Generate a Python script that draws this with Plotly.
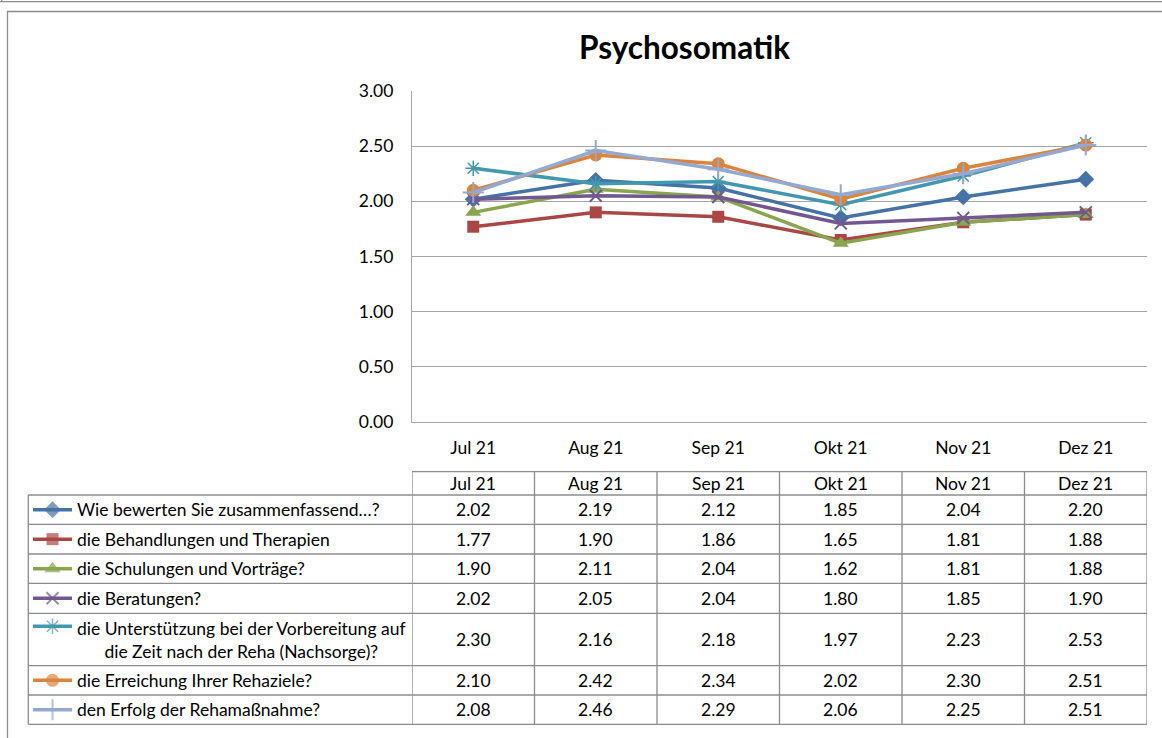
import plotly.graph_objects as go

W, H = 1162, 738

months = ["Jul 21", "Aug 21", "Sep 21", "Okt 21", "Nov 21", "Dez 21"]
series_names = [
    "Wie bewerten Sie zusammenfassend…?",
    "die Behandlungen und Therapien",
    "die Schulungen und Vorträge?",
    "die Beratungen?",
    "die Unterstützung bei der Vorbereitung auf<br>die Zeit nach der Reha (Nachsorge)?",
    "die Erreichung Ihrer Rehaziele?",
    "den Erfolg der Rehamaßnahme?",
]
s_gesamt = [2.02, 2.19, 2.12, 1.85, 2.04, 2.20]
s_behandlung = [1.77, 1.90, 1.86, 1.65, 1.81, 1.88]
s_schulung = [1.90, 2.11, 2.04, 1.62, 1.81, 1.88]
s_beratung = [2.02, 2.05, 2.04, 1.80, 1.85, 1.90]
s_nachsorge = [2.30, 2.16, 2.18, 1.97, 2.23, 2.53]
s_rehaziele = [2.10, 2.42, 2.34, 2.02, 2.30, 2.51]
s_erfolg = [2.08, 2.46, 2.29, 2.06, 2.25, 2.51]
series_values = [s_gesamt, s_behandlung, s_schulung, s_beratung, s_nachsorge, s_rehaziele, s_erfolg]
y_ticks = [0.0, 0.5, 1.0, 1.5, 2.0, 2.5, 3.0]
title_text = "Psychosomatik"

colors = ["#4572A7", "#AA4643", "#89A54E", "#71588F", "#4198AF", "#DB843D", "#93A9CF"]
symbols = ["diamond", "square", "triangle-up", "x-thin-open", "asterisk-open", "circle", "cross-thin-open"]
msizes = [13, 12, 14, 12, 13, 13, 15]
mlw = [0, 0, 0, 2, 1.5, 0, 2]

FONT = "Lato"
FS = 17.5
TXT = "#000000"
GRID = "#a6a6a6"
BORDER = "#8c8c8c"

# plot area in pixels
PL, PR, PT, PB = 412, 1147, 91, 422


def X(px):
    return px / W


def Y(py):
    return 1 - py / H


fig = go.Figure()

for i, (name, vals) in enumerate(zip(series_names, series_values)):
    fig.add_trace(go.Scatter(
        x=months, y=vals, mode="lines+markers", name=name.replace("<br>", " "),
        line=dict(color=colors[i], width=3.5),
        marker=dict(symbol=symbols[i], size=msizes[i], color=colors[i],
                    line=dict(color=colors[i], width=mlw[i])),
        showlegend=False, xaxis="x", yaxis="y", cliponaxis=False,
    ))

# table geometry (pixels)
header_top, header_bot = 471.7, 495
row_bounds = [495, 524.3, 554, 583.3, 613.3, 665.7, 695, 724.3]
table_left = 28.3

# legend keys in table (overlay axis in pixel units)
for i in range(len(series_names)):
    top, bot = row_bounds[i], row_bounds[i + 1]
    ky = (top + bot) / 2 if i != 4 else top + 13
    fig.add_trace(go.Scatter(
        x=[33, 52.5, 72], y=[ky, ky, ky], mode="lines+markers",
        line=dict(color=colors[i], width=3.5),
        marker=dict(symbol=symbols[i], size=[0, msizes[i], 0], color=colors[i],
                    line=dict(color=colors[i], width=mlw[i])),
        showlegend=False, xaxis="x2", yaxis="y2", hoverinfo="skip", cliponaxis=False,
    ))

shapes = []
line_style = dict(color=BORDER, width=1.3)
shapes.append(dict(type="line", xref="paper", yref="paper", x0=0, x1=1, y0=Y(1.7), y1=Y(1.7),
                   line=dict(color=BORDER, width=1.3)))
shapes.append(dict(type="line", xref="paper", yref="paper", x0=X(1.7), x1=X(1.7), y0=1, y1=Y(1.7),
                   line=dict(color=BORDER, width=1.3)))
shapes.append(dict(type="path", xref="paper", yref="paper",
                   path=f"M {X(7.5)},0 L {X(7.5)},{Y(11.5)} L 1,{Y(11.5)}",
                   line=dict(color=BORDER, width=1.3)))
shapes.append(dict(type="line", xref="x", yref="paper", x0=-0.5, x1=5.5, y0=Y(header_top), y1=Y(header_top),
                   line=line_style))
for yb in row_bounds:
    shapes.append(dict(type="line", xref="paper", yref="paper", x0=X(table_left), x1=X(PR),
                       y0=Y(yb), y1=Y(yb), line=line_style))
shapes.append(dict(type="line", xref="paper", yref="paper", x0=X(table_left), x1=X(table_left),
                   y0=Y(row_bounds[0]), y1=Y(row_bounds[-1]), line=line_style))
for k in range(len(months) + 1):
    shapes.append(dict(type="line", xref="x", yref="paper", x0=-0.5 + k, x1=-0.5 + k,
                       y0=Y(header_top), y1=Y(row_bounds[-1]), line=line_style))

annotations = []
annotations.append(dict(text=f"<b>{title_text}</b>", xref="paper", yref="paper", x=X(684), y=Y(47),
                        xanchor="center", yanchor="middle", showarrow=False,
                        font=dict(family=FONT, size=31.5, color=TXT)))
for m in months:
    annotations.append(dict(text=m, xref="x", yref="paper", x=m, y=Y((header_top + header_bot) / 2),
                            xanchor="center", yanchor="middle", showarrow=False,
                            font=dict(family=FONT, size=FS, color=TXT)))
for i, (name, vals) in enumerate(zip(series_names, series_values)):
    top, bot = row_bounds[i], row_bounds[i + 1]
    cy = (top + bot) / 2
    if "<br>" in name:
        annotations.append(dict(text=name, xref="paper", yref="paper", x=X(241), y=Y(cy),
                                xanchor="center", yanchor="middle", align="center", showarrow=False,
                                font=dict(family=FONT, size=FS, color=TXT)))
    else:
        annotations.append(dict(text=name, xref="paper", yref="paper", x=X(74.5), y=Y(cy),
                                xanchor="left", yanchor="middle", showarrow=False,
                                font=dict(family=FONT, size=FS, color=TXT)))
    for m, v in zip(months, vals):
        annotations.append(dict(text=f"{v:.2f}", xref="x", yref="paper", x=m, y=Y(cy),
                                xanchor="center", yanchor="middle", showarrow=False,
                                font=dict(family=FONT, size=FS, color=TXT)))

fig.update_layout(
    width=W, height=H,
    margin=dict(l=0, r=0, t=0, b=0, autoexpand=False),
    paper_bgcolor="white", plot_bgcolor="rgba(0,0,0,0)",
    font=dict(family=FONT, size=FS, color=TXT),
    xaxis=dict(domain=[X(PL), X(PR)], type="category", range=[-0.5, 5.5],
               showgrid=False, showline=True, linecolor=GRID, linewidth=1.3,
               ticks="", ticklabelstandoff=10, tickfont=dict(family=FONT, size=FS, color=TXT),
               anchor="y", zeroline=False, fixedrange=True, automargin=False),
    yaxis=dict(domain=[Y(PB), Y(PT)], range=[0, 3], tickvals=y_ticks,
               ticktext=[f"{v:.2f}" for v in y_ticks],
               showgrid=True, gridcolor=GRID, gridwidth=1.3, showline=True, linecolor=GRID, linewidth=1.3,
               ticks="", ticklabelstandoff=14, tickfont=dict(family=FONT, size=FS, color=TXT),
               anchor="x", zeroline=False, fixedrange=True, automargin=False),
    xaxis2=dict(domain=[0, 1], range=[0, W], visible=False, anchor="y2", fixedrange=True, automargin=False),
    yaxis2=dict(domain=[0, 1], range=[H, 0], visible=False, anchor="x2", fixedrange=True, automargin=False),
    shapes=shapes,
    annotations=annotations,
)

post = (
    "var gd=document.getElementById('{plot_id}');"
    "var p=gd.parentElement;p.style.position='absolute';p.style.top='0px';p.style.left='0px';"
    "p.style.margin='0';p.style.padding='0';"
    "document.documentElement.style.margin='0';document.documentElement.style.padding='0';"
    "document.body.style.margin='0';document.body.style.padding='0';"
    "document.documentElement.style.overflow='hidden';document.body.style.overflow='hidden';"
    "document.documentElement.style.height='738px';document.body.style.height='738px';"
)

fig.write_html("out.html", config={"displayModeBar": False}, post_script=post)
